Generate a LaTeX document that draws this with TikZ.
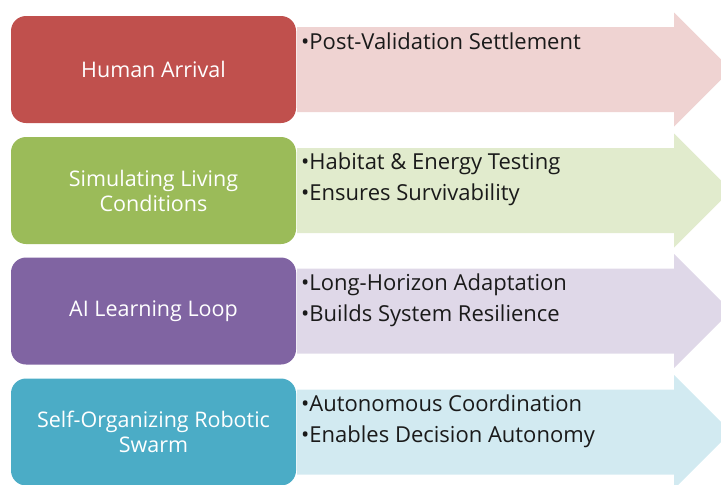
\documentclass[tikz,border=0pt]{standalone}
\usepackage{fontspec}
\setmainfont{Open Sans}
\begin{document}
\begin{tikzpicture}[x=1pt,y=-1pt]
  % colors
  \definecolor{kRed}{HTML}{C0504D}
  \definecolor{kGreen}{HTML}{9BBB59}
  \definecolor{kPurple}{HTML}{8064A2}
  \definecolor{kBlue}{HTML}{4BACC6}
  \definecolor{kText}{HTML}{1A1A1A}
  \tikzset{
    stagebox/.style={rounded corners=15pt,minimum width=285pt,minimum height=107pt,
      inner sep=0pt,text=white,align=center,font=\fontsize{21.5}{25}\selectfont},
    notes/.style={anchor=base west,inner sep=0pt,align=left,text=kText,
      font=\fontsize{22}{31}\selectfont}
  }
  \useasboundingbox (0,0) rectangle (721,485);
  \clip (0,0) rectangle (721,485);
  % arrows
  \fill[kRed!25] (297,27) -- (674,27) -- (674,12.5) -- (731,69.5) -- (674,126.5) -- (674,112) -- (297,112) -- cycle;
  \fill[kGreen!30] (297,148) -- (674,148) -- (674,133.5) -- (731,190.5) -- (674,247.5) -- (674,233) -- (297,233) -- cycle;
  \fill[kPurple!25] (297,268.5) -- (674,268.5) -- (674,254) -- (731,311) -- (674,368) -- (674,353.5) -- (297,353.5) -- cycle;
  \fill[kBlue!25] (297,389.5) -- (674,389.5) -- (674,375) -- (731,432) -- (674,489) -- (674,474.5) -- (297,474.5) -- cycle;
  % stages
  \node[stagebox,fill=kRed] (arr) at (153.5,69.5) {Human Arrival};
  \node[stagebox,fill=kGreen] (sim) at (153.5,190.5) {Simulating Living\\Conditions};
  \node[stagebox,fill=kPurple] (ail) at (153.5,311) {AI Learning Loop};
  \node[stagebox,fill=kBlue] (swm) at (153.5,432) {Self-Organizing Robotic\\Swarm};
  % notes
  \node[notes] (arrTxt) at (301,49) {•Post-Validation Settlement};
  \node[notes] (simTxt) at (301,200.5) {•Habitat \& Energy Testing\\•Ensures Survivability};
  \node[notes] (ailTxt) at (301,321) {•Long-Horizon Adaptation\\•Builds System Resilience};
  \node[notes] (swmTxt) at (301,442) {•Autonomous Coordination\\•Enables Decision Autonomy};
\end{tikzpicture}
\end{document}
